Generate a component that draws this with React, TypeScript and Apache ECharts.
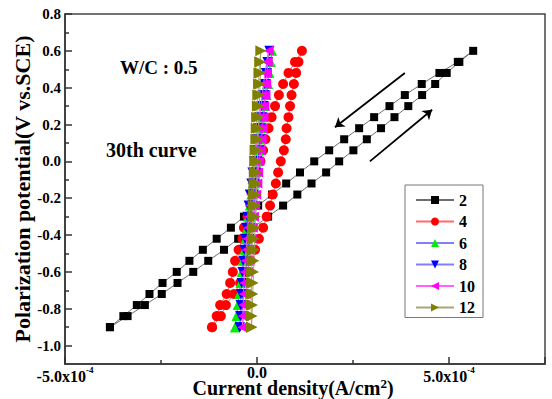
import { useEffect, useRef } from 'react';
import * as echarts from 'echarts';

// Polarization potential (V vs. SCE) of each scan point
const potentialUp = [-0.90, -0.84, -0.78, -0.72, -0.66, -0.60, -0.54, -0.48, -0.42, -0.36, -0.30, -0.24, -0.18, -0.12, -0.06, 0.00, 0.06, 0.12, 0.18, 0.24, 0.30, 0.36, 0.42, 0.48, 0.54, 0.60];
const potentialDown = [0.54, 0.48, 0.42, 0.36, 0.30, 0.24, 0.18, 0.12, 0.06, 0.00, -0.06, -0.12, -0.18, -0.24, -0.30, -0.36, -0.42, -0.48, -0.54, -0.60, -0.66, -0.72, -0.78, -0.84, -0.90];

// Current density in units of 1e-4 A/cm2
const currentUp2 = [-3.83, -3.37, -2.92, -2.48, -2.07, -1.66, -1.27, -0.86, -0.49, -0.10, 0.29, 0.68, 1.05, 1.42, 1.80, 2.14, 2.51, 2.86, 3.23, 3.58, 3.94, 4.30, 4.64, 4.94, 5.27, 5.63];
const currentDown2 = [5.23, 4.75, 4.29, 3.85, 3.45, 3.05, 2.66, 2.27, 1.88, 1.49, 1.12, 0.76, 0.39, 0.03, -0.34, -0.68, -1.05, -1.41, -1.76, -2.09, -2.46, -2.80, -3.13, -3.48, -3.83];

const currentUp4 = [-1.17, -0.94, -0.81, -0.60, -0.44, -0.29, -0.16, -0.05, 0.05, 0.16, 0.25, 0.34, 0.41, 0.49, 0.55, 0.62, 0.70, 0.75, 0.77, 0.82, 0.86, 0.90, 0.96, 1.02, 1.08, 1.17];
const currentDown4 = [0.99, 0.82, 0.68, 0.57, 0.47, 0.38, 0.30, 0.22, 0.16, 0.09, 0.03, -0.04, -0.10, -0.17, -0.25, -0.34, -0.38, -0.48, -0.57, -0.63, -0.70, -0.79, -0.96, -1.05, -1.17];

const currentUp6 = [-0.57, -0.53, -0.50, -0.46, -0.42, -0.38, -0.33, -0.29, -0.25, -0.21, -0.17, -0.13, -0.09, -0.05, -0.02, 0.02, 0.06, 0.10, 0.14, 0.18, 0.21, 0.25, 0.29, 0.32, 0.36, 0.39];
const currentDown6 = [0.35, 0.31, 0.26, 0.22, 0.18, 0.13, 0.09, 0.05, 0.01, -0.03, -0.07, -0.11, -0.15, -0.19, -0.23, -0.26, -0.30, -0.33, -0.37, -0.40, -0.43, -0.46, -0.50, -0.53, -0.57];

const currentUp8 = [-0.45, -0.42, -0.39, -0.36, -0.33, -0.29, -0.26, -0.23, -0.20, -0.17, -0.14, -0.11, -0.08, -0.05, -0.02, 0.01, 0.05, 0.08, 0.11, 0.14, 0.17, 0.20, 0.23, 0.26, 0.29, 0.32];
const currentDown8 = [0.27, 0.23, 0.19, 0.15, 0.11, 0.07, 0.03, -0.01, -0.05, -0.08, -0.12, -0.15, -0.19, -0.22, -0.25, -0.28, -0.31, -0.33, -0.36, -0.38, -0.40, -0.42, -0.43, -0.44, -0.45];

const currentUp10 = [-0.38, -0.35, -0.32, -0.29, -0.26, -0.23, -0.20, -0.17, -0.14, -0.11, -0.08, -0.05, -0.02, 0.01, 0.03, 0.06, 0.09, 0.12, 0.14, 0.17, 0.19, 0.22, 0.24, 0.26, 0.28, 0.30];
const currentDown10 = [0.25, 0.21, 0.17, 0.14, 0.10, 0.07, 0.03, 0.00, -0.03, -0.06, -0.09, -0.12, -0.15, -0.18, -0.21, -0.23, -0.26, -0.28, -0.30, -0.32, -0.34, -0.35, -0.36, -0.37, -0.38];

const currentUp12 = [-0.14, -0.13, -0.12, -0.11, -0.10, -0.09, -0.08, -0.07, -0.06, -0.05, -0.04, -0.03, -0.02, -0.01, 0.00, 0.01, 0.02, 0.03, 0.04, 0.05, 0.06, 0.07, 0.08, 0.09, 0.09, 0.10];
const currentDown12 = [0.07, 0.05, 0.04, 0.02, 0.01, -0.01, -0.02, -0.03, -0.05, -0.06, -0.07, -0.08, -0.09, -0.10, -0.11, -0.12, -0.12, -0.13, -0.13, -0.14, -0.14, -0.15, -0.15, -0.15, -0.14];

const seriesNames = ['2', '4', '6', '8', '10', '12'];

// Axis ticks
const xTicks = [-5, 0, 5];
const yMajorTicks = [-1.0, -0.8, -0.6, -0.4, -0.2, 0.0, 0.2, 0.4, 0.6, 0.8];
const yMinorTicks = [-0.9, -0.7, -0.5, -0.3, -0.1, 0.1, 0.3, 0.5, 0.7];

// Scan direction arrows, in data units [current(1e-4), potential]
const arrowReverse = [[3.85, 0.48], [2.03, 0.185]];
const arrowForward = [[2.94, 0.0], [4.56, 0.28]];

const FONT = "'Liberation Serif', 'Times New Roman', serif";

function loop(up: number[], down: number[]) {
  return [
    ...up.map((x, i) => [x, potentialUp[i]]),
    ...down.map((x, i) => [x, potentialDown[i]]),
  ];
}

export default function App() {
  const ref = useRef<HTMLDivElement>(null);
  useEffect(() => {
    if (!ref.current) return;
    const chart = echarts.init(ref.current, null, { renderer: 'svg' });
    const styles = [
      { symbol: 'rect', size: 8, color: '#000000', line: '#6e6e6e', rotate: 0 },
      { symbol: 'circle', size: 10, color: '#ff0000', line: '#ff6a6a', rotate: 0 },
      { symbol: 'triangle', size: 10, color: '#00ee00', line: '#8080ff', rotate: 0 },
      { symbol: 'triangle', size: 10, color: '#0000ff', line: '#8080ff', rotate: 180 },
      { symbol: 'triangle', size: 10, color: '#ff00ff', line: '#ff60ff', rotate: 90 },
      { symbol: 'triangle', size: 11, color: '#808000', line: '#a8a870', rotate: -90 },
    ];
    const dataSets = [
      loop(currentUp2, currentDown2),
      loop(currentUp4, currentDown4),
      loop(currentUp6, currentDown6),
      loop(currentUp8, currentDown8),
      loop(currentUp10, currentDown10),
      loop(currentUp12, currentDown12),
    ];
    const series: any[] = seriesNames.map((name, i) => ({
      name,
      type: 'line',
      data: dataSets[i],
      symbol: styles[i].symbol,
      symbolSize: styles[i].size,
      symbolRotate: styles[i].rotate,
      showAllSymbol: true,
      itemStyle: { color: styles[i].color },
      lineStyle: { color: styles[i].line, width: 1 },
      emphasis: { disabled: true },
      z: 2 + i,
    }));
    series[0].markLine = {
      silent: true,
      symbol: ['none', 'arrow'],
      symbolSize: 9,
      label: { show: false },
      lineStyle: { color: '#000', width: 1.8, type: 'solid' },
      data: [
        [{ coord: arrowReverse[0] }, { coord: arrowReverse[1] }],
        [{ coord: arrowForward[0] }, { coord: arrowForward[1] }],
      ],
    };

    const axisLineStyle = { color: '#333', width: 1.5 };
    chart.setOption({
      animation: false,
      textStyle: { fontFamily: FONT },
      grid: {
        left: 65, top: 14, width: 480, height: 350,
        containLabel: false,
        outerBoundsMode: 'none',
        show: true, borderColor: '#444', borderWidth: 1.5,
      },
      legend: {
        orient: 'vertical',
        left: 405,
        top: 185,
        data: seriesNames,
        itemWidth: 38,
        itemHeight: 10,
        itemGap: 5.5,
        padding: [7, 8, 2, 10],
        borderColor: '#777',
        borderWidth: 1,
        textStyle: { fontFamily: FONT, fontWeight: 'bold', fontSize: 16, color: '#000' },
      },
      xAxis: {
        type: 'value',
        min: -5,
        max: 7.5,
        interval: 5,
        name: '{a|Current density(A/cm}{b|2}{a|)}',
        nameLocation: 'middle',
        nameGap: 13,
        nameMoveOverlap: false,
        nameTextStyle: {
          padding: [0, 24, 0, 0],
          rich: {
            a: { fontFamily: FONT, fontWeight: 'bold', fontSize: 20, color: '#000', verticalAlign: 'bottom', lineHeight: 21 },
            b: { fontFamily: FONT, fontWeight: 'bold', fontSize: 13, color: '#000', verticalAlign: 'top', lineHeight: 13 },
          },
        },
        axisLine: { onZero: false, lineStyle: axisLineStyle },
        axisTick: { show: true, inside: true, length: 7, lineStyle: axisLineStyle },
        minorTick: { show: true, splitNumber: 2, length: 4, lineStyle: axisLineStyle },
        splitLine: { show: false },
        axisLabel: {
          margin: 1,
          color: '#000',
          fontFamily: FONT,
          fontWeight: 'bold',
          fontSize: 16,
          lineHeight: 15,
          customValues: xTicks,
          formatter: (v: number) => (v === 0 ? '0.0' : `{n|${v.toFixed(1)}x10}{s|-4}`),
          rich: {
            n: { fontFamily: FONT, fontWeight: 'bold', fontSize: 16, color: '#000', verticalAlign: 'bottom', lineHeight: 19 },
            s: { fontFamily: FONT, fontWeight: 'bold', fontSize: 9, color: '#000', verticalAlign: 'top', lineHeight: 10 },
          },
        },
      },
      yAxis: [
        {
          type: 'value',
          min: -1.1,
          max: 0.8,
          name: 'Polarization potential(V vs.SCE)',
          nameLocation: 'middle',
          nameGap: 32,
          nameMoveOverlap: false,
          nameTextStyle: { fontFamily: FONT, fontWeight: 'bold', fontSize: 22, color: '#000' },
          axisLine: { show: true, onZero: false, lineStyle: axisLineStyle },
          axisTick: { show: true, inside: true, length: 7, customValues: yMajorTicks, lineStyle: axisLineStyle },
          splitLine: { show: false },
          axisLabel: {
            margin: 4,
            color: '#000',
            fontFamily: FONT,
            fontWeight: 'bold',
            fontSize: 15,
            customValues: yMajorTicks,
            formatter: (v: number) => v.toFixed(1),
          },
        },
        {
          type: 'value',
          min: -1.1,
          max: 0.8,
          position: 'left',
          axisLine: { show: false, onZero: false },
          axisTick: { show: true, inside: true, length: 4, customValues: yMinorTicks, lineStyle: axisLineStyle },
          axisLabel: { show: false, customValues: yMinorTicks },
          splitLine: { show: false },
        },
      ],
      graphic: [
        {
          type: 'text', left: 120, top: 58,
          style: { text: 'W/C : 0.5', fontFamily: FONT, fontWeight: 'bold', fontSize: 19, fill: '#000' },
        },
        {
          type: 'text', left: 106, top: 140,
          style: { text: '30th curve', fontFamily: FONT, fontWeight: 'bold', fontSize: 20, fill: '#000' },
        },
      ],
      series,
    });
    return () => chart.dispose();
  }, []);
  return <div ref={ref} style={{ position: 'fixed', left: 0, top: 0, width: 552, height: 399, background: '#fff' }} />;
}
